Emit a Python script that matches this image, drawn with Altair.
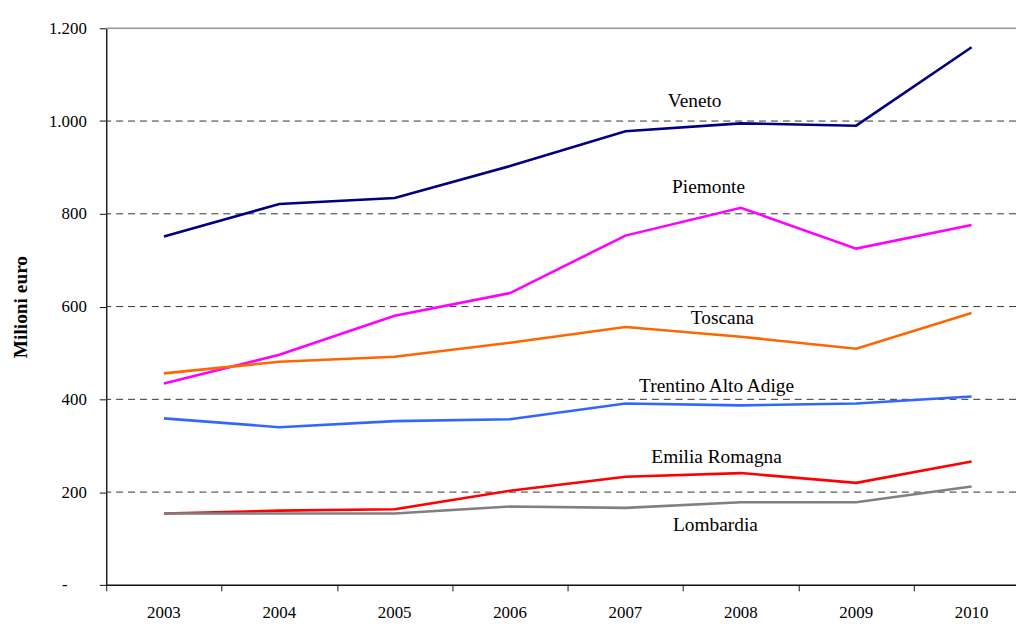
import altair as alt
import pandas as pd

years = [2003, 2004, 2005, 2006, 2007, 2008, 2009, 2010]
regions = ["Veneto", "Piemonte", "Toscana", "Trentino Alto Adige", "Emilia Romagna", "Lombardia"]
veneto = [751, 821, 834, 903, 978, 995, 990, 1159]
piemonte = [434, 496, 580, 629, 753, 813, 725, 776]
toscana = [456, 481, 492, 522, 556, 535, 509, 586]
trentino = [359, 340, 353, 357, 391, 387, 391, 406]
emilia = [154, 160, 163, 203, 233, 241, 220, 266]
lombardia = [154, 154, 154, 169, 166, 178, 178, 212]
colors = ["#000080", "#FF00FF", "#FF6600", "#3366FF", "#FF0000", "#808080"]
label_x = [2007.60, 2007.72, 2007.84, 2007.79, 2007.79, 2007.78]
label_y = [1044, 858, 575, 428, 276, 130]
y_ticks = [0, 200, 400, 600, 800, 1000, 1200]
grid_values = [200, 400, 600, 800, 1000]
x_bounds = [2002.5, 2003.5, 2004.5, 2005.5, 2006.5, 2007.5, 2008.5, 2009.5, 2010.5]
top_value = [1200]
zero_label = ["-"]

FONT = "Liberation Serif"

series = [veneto, piemonte, toscana, trentino, emilia, lombardia]
rows = []
for r, vals in zip(regions, series):
    for y, v in zip(years, vals):
        rows.append({"region": r, "year": y, "value": v})
df = pd.DataFrame(rows)
labels_df = pd.DataFrame({"region": regions, "lx": label_x, "ly": label_y})
years_df = pd.DataFrame({"year": years, "txt": [str(y) for y in years]})
grid_df = pd.DataFrame({"g": grid_values})
top_df = pd.DataFrame({"g": top_value})
zero_df = pd.DataFrame({"g": [0], "txt": zero_label})

xs = alt.Scale(domain=[2002.5, 2010.385], nice=False, zero=False)
ys = alt.Scale(domain=[0, 1200], nice=False)

x_axis = alt.Axis(values=x_bounds, labels=False, tickSize=6, tickColor="#111",
                  domainColor="#111", domainWidth=1.5, grid=False, title=None)
y_axis = alt.Axis(values=y_ticks, grid=False,
                  labelExpr="datum.value == 0 ? '' : replace(format(datum.value, ','), ',', '.')",
                  labelFont=FONT, labelFontSize=17, labelColor="#000",
                  tickSize=7, tickColor="#111", labelPadding=13,
                  domainColor="#222", domainWidth=1.5,
                  title="Milioni euro", titleFont=FONT, titleFontSize=19.5,
                  titleFontWeight="bold", titleColor="#000", titlePadding=18)

grid = alt.Chart(grid_df).mark_rule(strokeDash=[7, 5], color="#333", strokeWidth=1).encode(
    y=alt.Y("g:Q", scale=ys, axis=y_axis)
)
top = alt.Chart(top_df).mark_rule(color="#999", strokeWidth=1.5).encode(
    y=alt.Y("g:Q", scale=ys, axis=y_axis)
)

lines = alt.Chart(df).mark_line(strokeWidth=2.6, clip=True).encode(
    x=alt.X("year:Q", scale=xs, axis=x_axis),
    y=alt.Y("value:Q", scale=ys, axis=y_axis),
    color=alt.Color("region:N", scale=alt.Scale(domain=regions, range=colors), legend=None),
)

region_labels = alt.Chart(labels_df).mark_text(font=FONT, fontSize=19.5, color="#000").encode(
    x=alt.X("lx:Q", scale=xs, axis=x_axis),
    y=alt.Y("ly:Q", scale=ys, axis=y_axis),
    text="region:N",
)

year_labels = alt.Chart(years_df).mark_text(font=FONT, fontSize=17, color="#000", baseline="middle").encode(
    x=alt.X("year:Q", scale=xs, axis=x_axis),
    y=alt.value(589),
    text="txt:N",
)

zero_text = alt.Chart(zero_df).mark_text(font=FONT, fontSize=17, color="#000", baseline="middle", align="right").encode(
    x=alt.value(-39),
    y=alt.Y("g:Q", scale=ys, axis=y_axis),
    text="txt:N",
)

chart = alt.layer(grid, top, lines, region_labels, year_labels, zero_text).properties(
    width=917, height=561,
    autosize=alt.AutoSizeParams(type="none"),
    padding={"left": 99, "top": 18, "right": 0, "bottom": 37},
).configure_view(stroke=None).configure(background="white")

chart.save("out.html", embed_options={"renderer": "svg", "actions": False})
